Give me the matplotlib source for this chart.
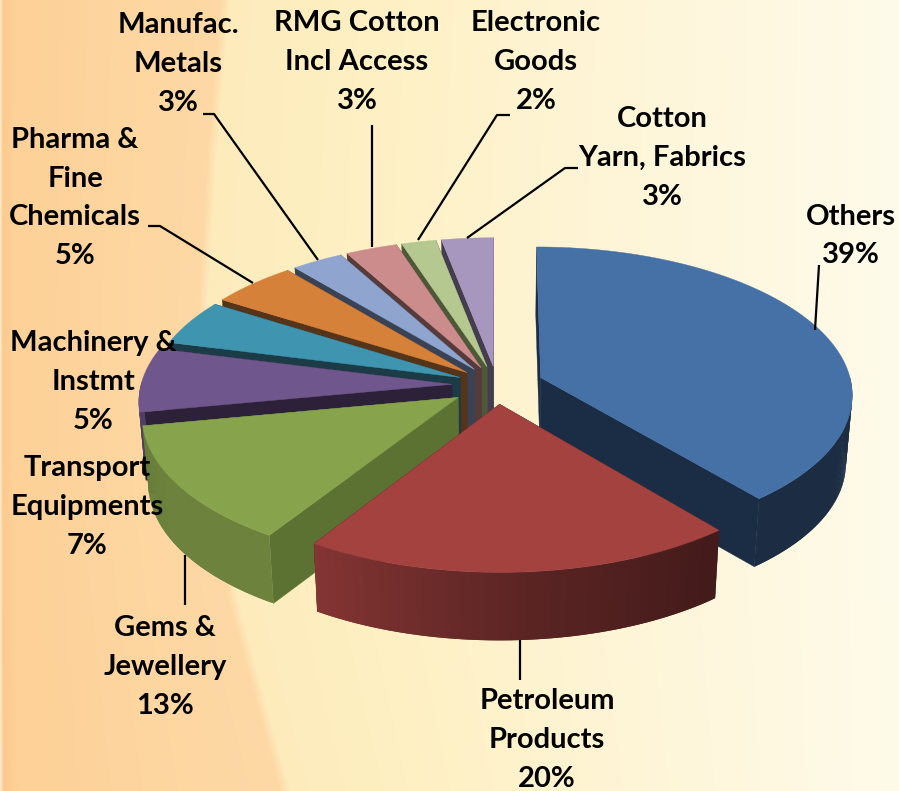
import matplotlib
matplotlib.use('Agg')
from matplotlib import pyplot as plt
import numpy as np

categories = ['Others', 'Petroleum\nProducts', 'Gems &\nJewellery', 'Transport\nEquipments',
              'Machinery &\nInstmt', 'Pharma &\nFine\nChemicals', 'Manufac.\nMetals',
              'RMG Cotton\nIncl Access', 'Electronic\nGoods', 'Cotton\nYarn, Fabrics']
shares = [39, 20, 13, 7, 5, 5, 3, 3, 2, 3]
top_colors = ['#4571a7', '#a44240', '#87a34c', '#6f568c', '#3f95b0',
              '#d5813a', '#8fa5cf', '#cd8c8c', '#b4c88f', '#a797bf']
face_colors = ['#1b2c45', '#451a18', '#5c7233', '#2c2138', '#1b3c47',
               '#55341a', '#3a4356', '#573a3a', '#4c5838', '#443d50']

CX, CY = 497, 385
RX, RY = 311, 146
PERSP = 0.106
DEPTH = 68
EXPLODE = [0.15, 0.13, 0.15, 0.145, 0.13, 0.13, 0.13, 0.13, 0.13, 0.13]


def project(px, py, h):
  s = 1 / (1 + PERSP * py)
  return CX + RX * px * s * (1 - 0.018 * h), CY - RY * py * s + DEPTH * h


def rim_shade(theta):
  return np.interp(theta, [90, 140, 175, 212, 240, 300], [0.4, 0.4, 0.55, 0.8, 0.8, 0.7])


def shade(color, f):
  return tuple(c * f for c in matplotlib.colors.to_rgb(color))


def draw_slice(ax, start, end, top, face, explode, z):
  mid = np.radians((start + end) / 2)
  ox, oy = explode * np.sin(mid), explode * np.cos(mid)
  th = np.radians(np.linspace(start, end, max(int(end - start) * 2, 12)))
  xs, ys = ox + np.sin(th), oy + np.cos(th)
  for a in (th[-1], th[0]):
    qx = [ox, ox + np.sin(a), ox + np.sin(a), ox]
    qy = [oy, oy + np.cos(a), oy + np.cos(a), oy]
    pts = [project(qx[i], qy[i], [0, 0, 1, 1][i]) for i in range(4)]
    ax.fill(*zip(*pts), color=face, lw=0.3, zorder=z)
  # only the part of the rim that faces the viewer, each quad overlaps the next
  for i in range(len(th) - 1):
    if np.cos(th[i]) > 0.0 and np.cos(th[i + 1]) > 0.0:
      continue
    j = min(i + 2, len(th) - 1)
    pts = [project(xs[i], ys[i], 0), project(xs[j], ys[j], 0),
           project(xs[j], ys[j], 1), project(xs[i], ys[i], 1)]
    f = rim_shade(np.degrees(th[i]))
    ax.fill(*zip(*pts), color=shade(top, f), lw=0, zorder=z + 0.1)
  tx, ty = project(np.r_[ox, xs], np.r_[oy, ys], 0)
  ax.fill(tx, ty, color=top, lw=0.3, zorder=z + 0.2)


def background(ax):
  yy, xx = np.mgrid[0:791, 0:899]
  edge = np.interp(yy, [0, 150, 300, 450, 600, 791], [225, 212, 203, 205, 233, 285])
  to_rgb = matplotlib.colors.to_rgb
  warm = np.array([to_rgb(c) for c in ['#fde8c8', '#fbca8e', '#fdd197', '#fdd59f', '#fed9a5']])
  pale = np.array([to_rgb(c) for c in ['#fdebbc', '#fef0c2', '#fef5d6', '#fffbea']])
  u = (xx / edge).clip(0, 1)
  v = ((xx - edge) / (899 - edge)).clip(0, 1)
  img_warm = np.stack([np.interp(u, [0, 0.012, 0.06, 0.5, 1], warm[:, c]) for c in range(3)], -1)
  img_pale = np.stack([np.interp(v, [0, 0.2, 0.55, 1], pale[:, c]) for c in range(3)], -1)
  mix = ((xx - edge + 5) / 10).clip(0, 1)[..., None]
  img = img_warm * (1 - mix) + img_pale * mix
  ax.imshow(img, extent=(0, 899, 791, 0), aspect='auto', zorder=0)


fig = plt.figure(figsize=(8.99, 7.91), dpi=100)
ax = fig.add_axes([0, 0, 1, 1])
background(ax)

edges = np.r_[0, np.cumsum(shares)] * 360 / sum(shares)
order = [9, 8, 7, 6, 5, 4, 3, 2, 0, 1]
for z, i in enumerate(order):
  draw_slice(ax, edges[i], edges[i + 1], top_colors[i], face_colors[i], EXPLODE[i], z + 1)

leaders = [
    [(815, 330), (819, 265)],
    [(520, 640), (520, 680)],
    [(185, 555), (185, 605)],
    None,
    None,
    [(253, 283), (160, 226), (148, 226)],
    [(318, 260), (214, 114), (203, 114)],
    [(372, 247), (372, 125)],
    [(418, 240), (497, 115), (510, 115)],
    [(467, 238), (565, 168), (578, 168)],
]
for pts in leaders:
  if pts:
    ax.plot(*zip(*pts), color='black', lw=1.6, zorder=20, solid_capstyle='butt')

label_pos = [(851, 236), (547, 740), (165, 667), (87, 507), (93, 382),
             (75, 198), (178, 64), (357, 62), (536, 62), (662, 158)]
for name, pct, pos in zip(categories, shares, label_pos):
  ax.text(pos[0], pos[1], '%s\n%d%%' % (name, pct), ha='center', va='center',
          family='Lato', weight='bold', fontsize=21, linespacing=1.6, color='black', zorder=30)

ax.set_xlim(0, 899)
ax.set_ylim(791, 0)
ax.axis('off')
fig.savefig('out.png', dpi=100)
